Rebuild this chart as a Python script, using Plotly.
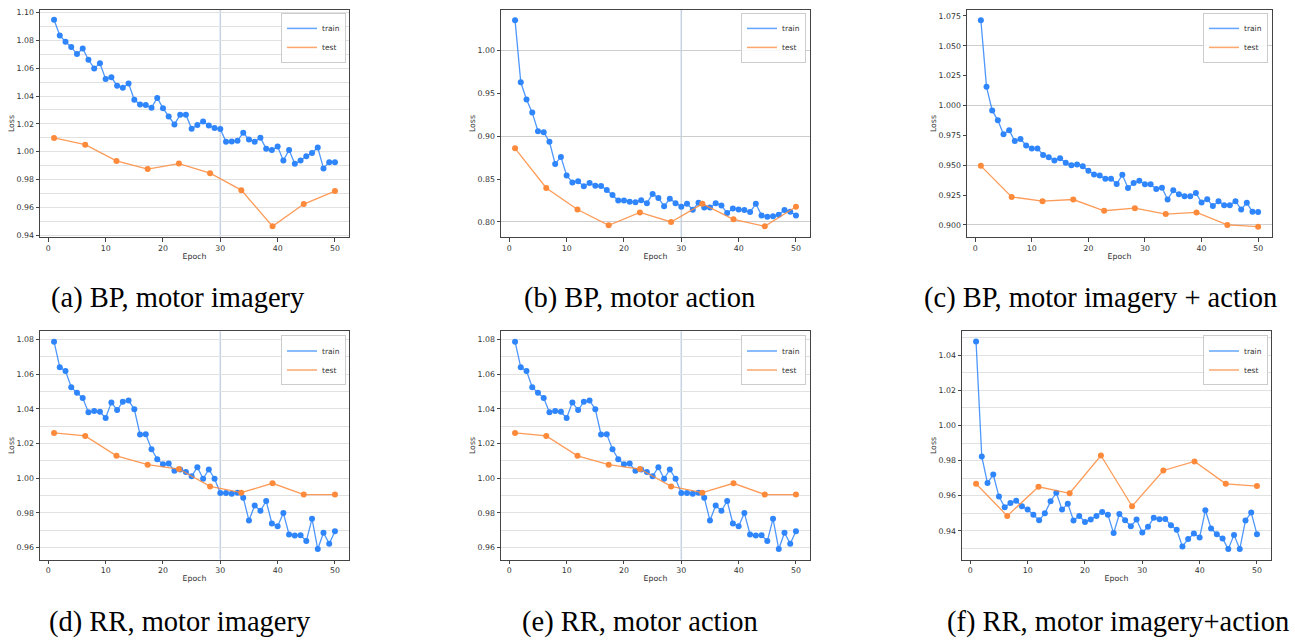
import plotly.graph_objects as go

# ---------------- data ----------------
epochs = list(range(1, 51))
test_epochs = [1, 6.44, 11.89, 17.33, 22.78, 28.22, 33.67, 39.11, 44.56, 50]

a_train = [1.0948, 1.0836, 1.0790, 1.0752, 1.0702, 1.0742, 1.0661, 1.0599, 1.0635, 1.0523,
           1.0535, 1.0475, 1.0459, 1.0490, 1.0373, 1.0340, 1.0335, 1.0316, 1.0387, 1.0313,
           1.0254, 1.0196, 1.0266, 1.0266, 1.0165, 1.0192, 1.0218, 1.0189, 1.0170, 1.0163,
           1.0072, 1.0074, 1.0078, 1.0137, 1.0087, 1.0072, 1.0101, 1.0022, 1.0013, 1.0037,
           0.9937, 1.0013, 0.9913, 0.9937, 0.9968, 0.9991, 1.0030, 0.9880, 0.9925, 0.9925]
a_test = [1.0099, 1.0051, 0.9934, 0.9875, 0.9915, 0.9846, 0.9724, 0.9464, 0.9624, 0.9717]

b_train = [1.0355, 0.9630, 0.9430, 0.9276, 0.9060, 0.9048, 0.8936, 0.8678, 0.8759, 0.8543,
           0.8462, 0.8474, 0.8416, 0.8455, 0.8424, 0.8420, 0.8374, 0.8316, 0.8250, 0.8250,
           0.8235, 0.8230, 0.8254, 0.8220, 0.8328, 0.8281, 0.8185, 0.8270, 0.8220, 0.8177,
           0.8212, 0.8143, 0.8224, 0.8170, 0.8170, 0.8220, 0.8193, 0.8104, 0.8158, 0.8146,
           0.8139, 0.8116, 0.8212, 0.8077, 0.8062, 0.8066, 0.8085, 0.8139, 0.8120, 0.8077]
b_test = [0.8859, 0.8397, 0.8146, 0.7961, 0.8112, 0.8000, 0.8212, 0.8031, 0.7950, 0.8177]

c_train = [1.0714, 1.0156, 0.9959, 0.9876, 0.9760, 0.9793, 0.9702, 0.9719, 0.9666, 0.9641,
           0.9641, 0.9586, 0.9567, 0.9539, 0.9558, 0.9520, 0.9500, 0.9506, 0.9492, 0.9453,
           0.9423, 0.9415, 0.9387, 0.9387, 0.9343, 0.9420, 0.9310, 0.9351, 0.9370, 0.9340,
           0.9340, 0.9301, 0.9312, 0.9213, 0.9290, 0.9257, 0.9240, 0.9240, 0.9268, 0.9188,
           0.9216, 0.9158, 0.9199, 0.9166, 0.9166, 0.9199, 0.9130, 0.9185, 0.9110, 0.9108]
c_test = [0.9495, 0.9235, 0.9199, 0.9213, 0.9119, 0.9141, 0.9091, 0.9105, 0.9000, 0.8986]

d_train = [1.0787, 1.0639, 1.0618, 1.0525, 1.0492, 1.0462, 1.0380, 1.0387, 1.0383, 1.0347,
           1.0437, 1.0393, 1.0441, 1.0448, 1.0397, 1.0252, 1.0253, 1.0167, 1.0110, 1.0080,
           1.0085, 1.0043, 1.0051, 1.0036, 1.0011, 1.0064, 0.9997, 1.0051, 0.9997, 0.9915,
           0.9915, 0.9911, 0.9917, 0.9888, 0.9757, 0.9843, 0.9812, 0.9869, 0.9739, 0.9724,
           0.9799, 0.9676, 0.9670, 0.9672, 0.9638, 0.9766, 0.9592, 0.9686, 0.9623, 0.9694]
d_test = [1.0261, 1.0244, 1.0129, 1.0078, 1.0053, 0.9953, 0.9917, 0.9971, 0.9906, 0.9906]

e_train = list(d_train)
e_test = list(d_test)

f_train = [1.0478, 0.9823, 0.9672, 0.9721, 0.9595, 0.9534, 0.9559, 0.9572, 0.9540, 0.9521,
           0.9491, 0.9460, 0.9500, 0.9568, 0.9617, 0.9521, 0.9555, 0.9459, 0.9485, 0.9451,
           0.9464, 0.9485, 0.9508, 0.9491, 0.9387, 0.9496, 0.9460, 0.9426, 0.9464, 0.9390,
           0.9423, 0.9474, 0.9466, 0.9468, 0.9432, 0.9406, 0.9311, 0.9353, 0.9385, 0.9362,
           0.9517, 0.9413, 0.9381, 0.9357, 0.9296, 0.9377, 0.9296, 0.9459, 0.9504, 0.9381]
f_test = [0.9668, 0.9485, 0.9651, 0.9614, 0.9829, 0.9540, 0.9744, 0.9795, 0.9668, 0.9655]

captions = ["(a) BP, motor imagery", "(b) BP, motor action", "(c) BP, motor imagery + action",
            "(d) RR, motor imagery", "(e) RR, motor action", "(f) RR, motor imagery+action"]
series_names = ["train", "test"]
x_tick_values = [0, 10, 20, 30, 40, 50]

# ---------------- layout config ----------------
W, H = 1295, 643
TRAIN_C = "#2f85fc"
TRAIN_L = "rgba(47,133,252,0.85)"
TEST_C = "#fd8a3b"
TEST_L = "rgba(253,138,59,0.85)"
GRID = "#e1e1e1"
GRID_D = "#cdcdcd"
AXC = "#444444"
TXT = "#333333"
TICKFONT = dict(family="DejaVu Sans", size=7.8, color=TXT)

panels = [
    dict(train=a_train, test=a_test, px=(40, 349), py=(8, 237), yr=(0.9386, 1.1019),
         dtick=0.02, fmt=".2f", grid="minor", gstep=0.01, vline=True, leg=(346, 11), cap=(178, 298)),
    dict(train=b_train, test=b_test, px=(501, 810), py=(8, 237), yr=(0.7823, 1.0474),
         dtick=0.05, fmt=".2f", grid="overlay", gstep=0.1, vline=True, leg=(806, 11), cap=(639, 298)),
    dict(train=c_train, test=c_test, px=(967, 1272), py=(8, 237), yr=(0.8898, 1.0800),
         dtick=0.025, fmt=".3f", grid="overlay", gstep=0.05, vline=False, leg=(1268, 11), cap=(1100, 298)),
    dict(train=d_train, test=d_test, px=(40, 349), py=(332, 562), yr=(0.9531, 1.0846),
         dtick=0.02, fmt=".2f", grid="minor", gstep=0.01, vline=True, leg=(346, 336), cap=(180, 625)),
    dict(train=e_train, test=e_test, px=(501, 810), py=(332, 562), yr=(0.9531, 1.0846),
         dtick=0.02, fmt=".2f", grid="minor", gstep=0.01, vline=True, leg=(806, 336), cap=(640, 625)),
    dict(train=f_train, test=f_test, px=(962, 1271), py=(332, 562), yr=(0.9236, 1.0536),
         dtick=0.02, fmt=".2f", grid="minor", gstep=0.01, vline=False, leg=(1268, 336), cap=(1118, 625)),
]

fig = go.Figure()
layout = dict(
    width=W, height=H, margin=dict(l=0, r=0, t=0, b=0),
    paper_bgcolor="white", plot_bgcolor="white", showlegend=True,
)
annotations = []
shapes = []
extra_axis = 7

for i, p in enumerate(panels):
    n = i + 1
    xs = "" if n == 1 else str(n)
    xname, yname = "x" + xs, "y" + xs
    legname = "legend" + xs
    xdom = [p["px"][0] / W, p["px"][1] / W]
    ydom = [1 - p["py"][1] / H, 1 - p["py"][0] / H]

    xaxis = dict(
        domain=xdom, anchor=yname, range=[-1.45, 52.45], tickvals=x_tick_values,
        showgrid=False, zeroline=False, showline=True, mirror=True, linecolor=AXC, linewidth=1,
        ticks="outside", ticklen=3.5, tickcolor=AXC, tickwidth=1, tickfont=TICKFONT,
        title=dict(text="Epoch", font=dict(family="DejaVu Sans", size=7.8, color=TXT), standoff=1),
    )
    yaxis = dict(
        domain=ydom, anchor=xname, range=list(p["yr"]), tick0=0, dtick=p["dtick"],
        tickformat=p["fmt"], zeroline=False, showline=True, mirror=True, linecolor=AXC,
        linewidth=1, ticks="outside", ticklen=3.5, tickcolor=AXC, tickwidth=1, tickfont=TICKFONT,
        title=dict(text="Loss", font=dict(family="DejaVu Sans", size=7.8, color=TXT), standoff=0),
    )
    if p["grid"] == "minor":
        yaxis.update(showgrid=True, gridcolor=GRID, gridwidth=1,
                     minor=dict(tick0=0, dtick=p["gstep"], showgrid=True, gridcolor=GRID,
                                gridwidth=1, ticks=""))
    else:
        yaxis.update(showgrid=False)
        ov = "y" + str(extra_axis)
        layout["yaxis" + str(extra_axis)] = dict(
            domain=ydom, anchor=xname, overlaying=yname, range=list(p["yr"]), tick0=0,
            dtick=p["gstep"], showgrid=True, gridcolor=GRID_D, gridwidth=1.2,
            showticklabels=False, ticks="", showline=False, zeroline=False, side="right",
        )
        fig.add_trace(go.Scatter(x=[None], y=[None], xaxis=xname, yaxis=ov,
                                 showlegend=False, hoverinfo="skip"))
        extra_axis += 1
    layout["xaxis" + xs] = xaxis
    layout["yaxis" + xs] = yaxis

    if p["vline"]:
        shapes.append(dict(type="line", xref=xname, yref=yname + " domain", x0=30, x1=30,
                           y0=0, y1=1, line=dict(color="#c5d3e5", width=1.5), layer="below"))

    # data traces
    fig.add_trace(go.Scatter(x=epochs, y=p["train"], mode="lines+markers", xaxis=xname, yaxis=yname,
                             line=dict(color=TRAIN_L, width=1.3),
                             marker=dict(color=TRAIN_C, size=6), showlegend=False))
    fig.add_trace(go.Scatter(x=test_epochs, y=p["test"], mode="lines+markers", xaxis=xname, yaxis=yname,
                             line=dict(color=TEST_L, width=1.3),
                             marker=dict(color=TEST_C, size=6), showlegend=False))
    # legend-only traces (line sample only)
    for nm, col in zip(series_names, ["rgba(47,133,252,0.75)", "rgba(253,138,59,0.75)"]):
        fig.add_trace(go.Scatter(x=[None], y=[None], mode="lines", name=nm, xaxis=xname, yaxis=yname,
                                 line=dict(color=col, width=1.5), legend=legname, showlegend=True))
    layout[legname] = dict(
        x=p["leg"][0] / W, y=1 - p["leg"][1] / H, xanchor="right", yanchor="top",
        xref="paper", yref="paper", bgcolor="rgba(255,255,255,0.85)", bordercolor="#cccccc",
        borderwidth=1, font=dict(family="DejaVu Sans", size=7.5, color=TXT),
        tracegroupgap=0, itemwidth=30,
    )

    annotations.append(dict(text=captions[i], x=p["cap"][0] / W, y=1 - p["cap"][1] / H,
                            xref="paper", yref="paper", xanchor="center", yanchor="middle",
                            showarrow=False,
                            font=dict(family="Liberation Serif", size=28.5, color="black")))

layout["annotations"] = annotations
layout["shapes"] = shapes
fig.update_layout(**layout)
fig.write_html("out.html")
